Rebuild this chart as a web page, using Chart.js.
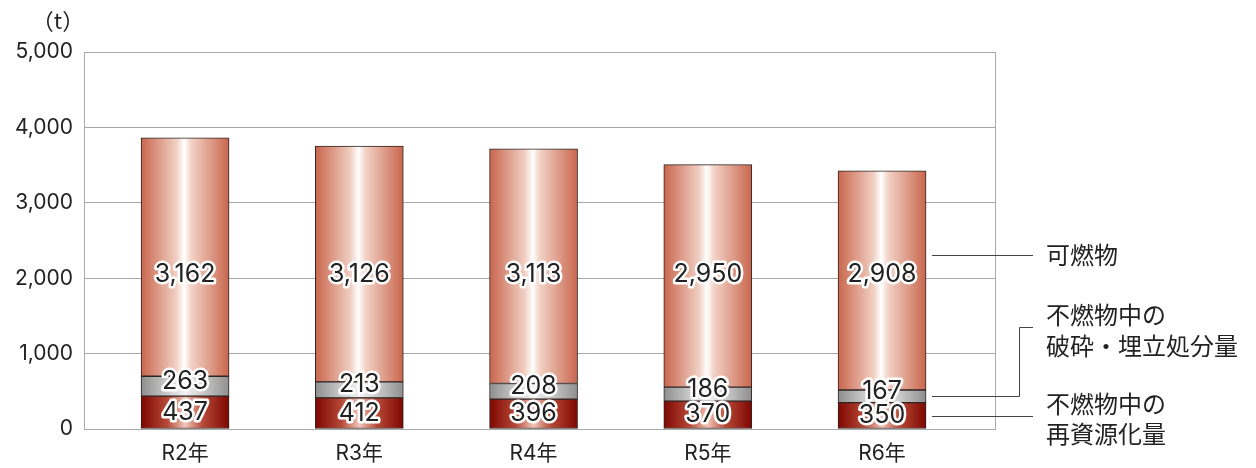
<!DOCTYPE html>
<html>
<head>
<meta charset="utf-8">
<script src="https://cdn.jsdelivr.net/npm/chart.js@4"></script>
<style>
  body { margin: 0; background: #fff; }
  #wrap { width: 1256px; height: 468px; }
</style>
</head>
<body>
<div id="wrap"><canvas id="grafico"></canvas></div>
<script>
const years = ['R2年', 'R3年', 'R4年', 'R5年', 'R6年'];
const saishigen = [437, 412, 396, 370, 350];
const haisai = [263, 213, 208, 186, 167];
const kanen = [3162, 3126, 3113, 2950, 2908];
const yTicks = [0, 1000, 2000, 3000, 4000, 5000];

const FONT = "Inter, 'Noto Sans CJK JP', sans-serif";
const JP = "'Noto Sans CJK JP', sans-serif";
const BAR_W = 88;

// degradado horizontal por barra
function degradado(stops) {
  return function(context) {
    const chart = context.chart;
    const x = chart.scales.x;
    if (!x || context.dataIndex === undefined) return stops[0][1];
    const cx = x.getPixelForValue(context.dataIndex);
    if (!isFinite(cx)) return stops[0][1];
    const g = chart.ctx.createLinearGradient(cx - BAR_W / 2, 0, cx + BAR_W / 2, 0);
    stops.forEach(s => g.addColorStop(s[0], s[1]));
    return g;
  };
}

const rojo = degradado([[0, '#7e0600'], [0.3, '#b64a38'], [0.5, '#f2c6b8'], [0.7, '#b64a38'], [1, '#7e0600']]);
const gris = degradado([[0, '#8e8e8e'], [0.5, '#f4f4f4'], [1, '#8e8e8e']]);
const salmon = degradado([[0, '#c9664d'], [0.4, '#f0cfc2'], [0.49, '#ffffff'], [0.57, '#f2d2c6'], [1, '#c9664d']]);

const etiquetas = {
  id: 'etiquetas',
  afterDatasetsDraw(chart) {
    const ctx = chart.ctx;
    const yScale = chart.scales.y;
    ctx.save();
    ctx.font = '25px ' + FONT;
    ctx.textAlign = 'center';
    ctx.textBaseline = 'middle';
    ctx.lineJoin = 'round';
    chart.data.datasets.forEach((ds, di) => {
      chart.getDatasetMeta(di).data.forEach((bar, i) => {
        const txt = ds.data[i].toLocaleString('en-US');
        let y = (bar.y + bar.base) / 2;
        if (di === 1) y -= 5;
        if (di === 2) y = yScale.getPixelForValue(2050);
        ctx.lineWidth = 5;
        ctx.strokeStyle = '#ffffff';
        ctx.strokeText(txt, bar.x, y);
        ctx.fillStyle = '#222222';
        ctx.fillText(txt, bar.x, y);
      });
    });
    ctx.restore();
  }
};

const marco = {
  id: 'marco',
  beforeDatasetsDraw(chart) {
    const a = chart.chartArea;
    const ctx = chart.ctx;
    ctx.save();
    ctx.strokeStyle = '#a8a8a8';
    ctx.lineWidth = 1;
    ctx.strokeRect(a.left + 0.5, a.top + 0.5, a.right - a.left - 1, a.bottom - a.top);
    ctx.restore();
  },
  afterDraw(chart) {
    const ctx = chart.ctx;
    const y = chart.scales.y;
    const x = chart.scales.x;
    const last = years.length - 1;
    const x0 = x.getPixelForValue(last) + BAR_W / 2 + 6;
    ctx.save();
    // unidad
    ctx.font = '22px ' + JP;
    ctx.fillStyle = '#222';
    ctx.textAlign = 'center';
    ctx.textBaseline = 'middle';
    ctx.fillText('（t）', 58, 21);
    // leyenda lateral
    ctx.strokeStyle = '#444';
    ctx.lineWidth = 1;
    const yK = Math.round(y.getPixelForValue(2310)) + 0.5;
    const yH = Math.round(y.getPixelForValue(saishigen[last] + haisai[last] / 2)) + 0.5;
    const yS = Math.round(y.getPixelForValue(saishigen[last] / 2)) + 0.5;
    ctx.beginPath();
    ctx.moveTo(x0, yK); ctx.lineTo(1033, yK);
    ctx.moveTo(x0, yH); ctx.lineTo(1019.5, yH); ctx.lineTo(1019.5, 327.5); ctx.lineTo(1033, 327.5);
    ctx.moveTo(x0, yS); ctx.lineTo(1033, yS);
    ctx.stroke();
    ctx.font = '24px ' + JP;
    ctx.textAlign = 'left';
    ctx.fillText('可燃物', 1046, 255);
    ctx.fillText('不燃物中の', 1046, 315);
    ctx.fillText('破砕・埋立処分量', 1046, 346);
    ctx.fillText('不燃物中の', 1046, 404);
    ctx.fillText('再資源化量', 1046, 434);
    ctx.restore();
  }
};

new Chart(document.getElementById('grafico'), {
  type: 'bar',
  data: {
    labels: years.map((_, i) => i),
    datasets: [
      { label: '不燃物中の再資源化量', data: saishigen, backgroundColor: rojo },
      { label: '不燃物中の破砕・埋立処分量', data: haisai, backgroundColor: gris },
      { label: '可燃物', data: kanen, backgroundColor: salmon }
    ].map(d => Object.assign(d, { borderColor: '#2e2422', borderWidth: 1, borderSkipped: false, barThickness: BAR_W }))
  },
  options: {
    responsive: true,
    maintainAspectRatio: false,
    animation: false,
    layout: { padding: { top: 52, right: 260, bottom: 0, left: 0 } },
    plugins: { legend: { display: false }, tooltip: { enabled: false } },
    scales: {
      x: {
        type: 'linear',
        stacked: true,
        offset: false,
        bounds: 'data',
        min: -0.58,
        max: 4.654,
        afterBuildTicks: axis => { axis.ticks = years.map((_, i) => ({ value: i })); },
        afterFit: axis => { axis.height = 39; },
        grid: { display: false },
        border: { display: false },
        ticks: {
          padding: 4,
          color: '#222',
          font: { family: FONT, size: 21 },
          callback: v => years[v]
        }
      },
      y: {
        stacked: true,
        min: 0,
        max: 5000,
        afterBuildTicks: axis => { axis.ticks = yTicks.map(v => ({ value: v })); },
        afterFit: axis => { axis.width = 84; },
        grid: { color: '#a8a8a8', drawTicks: false },
        border: { display: false },
        ticks: {
          padding: 11,
          color: '#222',
          font: { family: FONT, size: 21 },
          callback: v => v.toLocaleString('en-US')
        }
      }
    }
  },
  plugins: [marco, etiquetas]
});
</script>
</body>
</html>
